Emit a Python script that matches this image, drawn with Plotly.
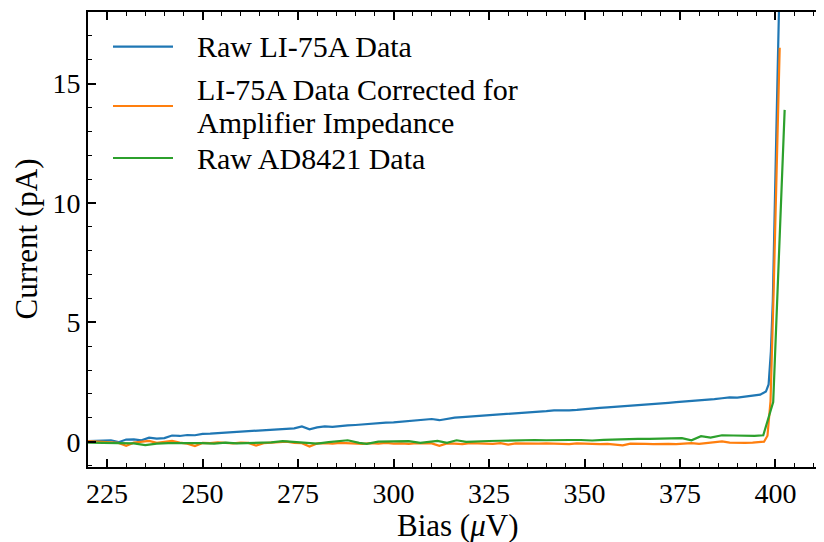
import plotly.graph_objects as go

# ── Data ───────────────────────────────────────────────────────
bias_li = [220, 222, 224, 226, 228, 230, 232, 234, 236, 238,
           240, 242, 244, 246, 248, 250, 252, 254, 256, 258,
           260, 262, 264, 266, 268, 270, 272, 274, 276, 278,
           280, 282, 284, 286, 288, 290, 292, 294, 296, 298,
           300, 302, 304, 306, 308, 310, 312, 314, 316, 318,
           320, 322, 324, 326, 328, 330, 332, 334, 336, 338,
           340, 342, 344, 346, 348, 350, 352, 354, 356, 358,
           360, 362, 364, 366, 368, 370, 372, 374, 376, 378,
           380, 382, 384, 386, 388, 390, 392, 394, 396]

raw_li = [0.02, 0.04, 0.05, 0.06, -0.02, 0.09, 0.10, 0.06, 0.17, 0.13,
          0.15, 0.26, 0.24, 0.28, 0.27, 0.33, 0.34, 0.36, 0.38, 0.40,
          0.42, 0.44, 0.47, 0.46, 0.49, 0.51, 0.53, 0.56, 0.64, 0.52,
          0.60, 0.64, 0.62, 0.66, 0.68, 0.70, 0.73, 0.74, 0.77, 0.80,
          0.81, 0.84, 0.87, 0.89, 0.92, 0.95, 0.90, 0.97, 1.01, 1.03,
          1.05, 1.08, 1.10, 1.12, 1.15, 1.18, 1.20, 1.22, 1.23, 1.25,
          1.28, 1.31, 1.30, 1.31, 1.33, 1.37, 1.40, 1.42, 1.44, 1.46,
          1.49, 1.51, 1.54, 1.57, 1.58, 1.61, 1.63, 1.66, 1.68, 1.70,
          1.72, 1.76, 1.78, 1.82, 1.86, 1.85, 1.88, 1.91, 1.97]
raw_tail_x = [397.5, 398.2, 398.8, 399.3, 400.2, 401.3]
raw_tail_y = [2.10, 2.40, 3.80, 5.90, 12.8, 21.0]

corr_li = [0.03, 0.02, 0.00, -0.03, -0.05, -0.17, -0.04, -0.02, 0.03, -0.05,
           -0.02, 0.03, -0.04, -0.08, -0.18, -0.05, -0.06, -0.03, -0.05, -0.07,
           -0.04, -0.05, -0.16, -0.06, -0.04, -0.03, 0.00, -0.05, -0.06, -0.20,
           -0.07, -0.06, -0.08, -0.05, -0.07, -0.06, -0.09, -0.06, -0.08, -0.05,
           -0.08, -0.07, -0.09, -0.06, -0.08, -0.07, -0.17, -0.07, -0.08, -0.10,
           -0.06, -0.08, -0.07, -0.09, -0.06, -0.12, -0.07, -0.08, -0.06, -0.08,
           -0.07, -0.09, -0.08, -0.10, -0.07, -0.09, -0.08, -0.10, -0.09, -0.13,
           -0.15, -0.08, -0.07, -0.09, -0.10, -0.08, -0.09, -0.10, -0.08, -0.06,
           -0.09, -0.05, -0.02, 0.01, -0.04, -0.06, -0.05, -0.04, -0.03]
corr_tail_x = [397.0, 397.9, 398.7, 399.5, 400.4, 401.1]
corr_tail_y = [0.00, 0.25, 1.70, 6.20, 11.4, 16.5]

bias_ad = [220, 223, 226, 229, 232, 235, 238, 241, 244, 247,
           250, 253, 256, 259, 262, 265, 268, 271, 274, 277,
           280, 283, 286, 288, 291, 293, 296, 299, 302, 304,
           307, 310, 311.5, 314, 316.5, 319, 322, 325, 328, 331,
           334, 337, 340, 343, 346, 349, 352, 355, 358, 361,
           364, 367, 370, 373, 375.5, 378, 380.5, 383, 386, 389,
           392, 394.5, 396.8, 399.4, 402.4]
raw_ad = [-0.04, -0.05, -0.06, -0.08, -0.07, -0.14, -0.08, -0.06, -0.05, -0.07,
          -0.06, -0.08, -0.04, -0.07, -0.06, -0.04, -0.03, 0.02, -0.02, -0.06,
          -0.08, -0.02, 0.04, 0.06, -0.05, -0.09, 0.00, 0.01, 0.03, 0.02,
          -0.05, 0.02, 0.03, -0.05, 0.06, -0.01, 0.02, 0.03, 0.04, 0.06,
          0.06, 0.07, 0.06, 0.08, 0.07, 0.07, 0.05, 0.08, 0.10, 0.12,
          0.12, 0.12, 0.13, 0.14, 0.15, 0.06, 0.23, 0.17, 0.27, 0.26,
          0.24, 0.24, 0.27, 1.66, 13.9]

names = ["Raw LI-75A Data",
         "LI-75A Data Corrected for<br>Amplifier Impedance",
         "Raw AD8421 Data"]
colors = ["#1f77b4", "#ff7f0e", "#2ca02c"]

FONT = "'Liberation Serif', 'DejaVu Serif', serif"
TICK_TXT = dict(family=FONT, size=28, color="black")
LEG_TXT = dict(family=FONT, size=30, color="black")
TITLE_TXT = dict(family=FONT, size=31, color="black")

# the page body adds an 8 px offset, so the figure is 8 px smaller
W, H = 816, 534
L, R, T, B = 80, 0, 4, 75
PW, PH = W - L - R, H - T - B

fig = go.Figure()
series = [
    (bias_li + raw_tail_x, raw_li + raw_tail_y),
    (bias_li + corr_tail_x, corr_li + corr_tail_y),
    (bias_ad, raw_ad),
]
for (x, y), name, c in zip(series, names, colors):
    fig.add_trace(go.Scatter(x=x, y=y, mode="lines", name=name,
                             line=dict(color=c, width=2.2)))

# ── Legend drawn by hand (matplotlib-like long handles) ────────
legend_rows = [(46.7, [names[0]]),
               (106, ["LI-75A Data Corrected for", "Amplifier Impedance"]),
               (158, [names[2]])]
for (ypx, lines), c in zip(legend_rows, colors):
    yc = 1 - (ypx - 12) / PH
    fig.add_shape(type="line", xref="paper", yref="paper",
                  x0=(113 - 88) / PW, x1=(173 - 88) / PW, y0=yc, y1=yc,
                  line=dict(color=c, width=2.2))
    offs = [0] if len(lines) == 1 else [16.9 / PH, -16.9 / PH]
    for txt, o in zip(lines, offs):
        fig.add_annotation(text=txt, xref="paper", yref="paper",
                           x=(195 - 88) / PW, y=yc + o, xanchor="left", yanchor="middle",
                           showarrow=False, font=LEG_TXT)

# axis titles as annotations so they sit exactly where the reference puts them
fig.add_annotation(text="Bias (<i>μ</i>V)", xref="paper", yref="paper",
                   x=(458 - 88) / PW, y=-58 / PH, xanchor="center", yanchor="middle",
                   showarrow=False, font=TITLE_TXT)
fig.add_annotation(text="Current (pA)", xref="paper", yref="paper", textangle=-90,
                   x=-62 / PW, y=0.5, xanchor="center", yanchor="middle",
                   showarrow=False, font=TITLE_TXT)

axis_common = dict(
    showline=True, linecolor="black", linewidth=2, automargin=False,
    ticks="inside", tickcolor="black", tickwidth=1.5, ticklen=8,
    showgrid=False, zeroline=False,
    tickfont=TICK_TXT,
)

fig.update_xaxes(range=[220, 412.7], dtick=25, tick0=225, mirror="ticks",
                 minor=dict(ticks="inside", ticklen=4, dtick=5, tickcolor="black", tickwidth=1.2),
                 **axis_common)
fig.update_yaxes(range=[-1.06, 18], dtick=5, mirror=False,
                 minor=dict(ticks="inside", ticklen=4, dtick=1, tickcolor="black", tickwidth=1.2),
                 **axis_common)

fig.update_layout(
    width=W, height=H,
    margin=dict(l=L, r=R, t=T, b=B),
    plot_bgcolor="white", paper_bgcolor="white",
    showlegend=False,
)

fig.write_html("out.html")
